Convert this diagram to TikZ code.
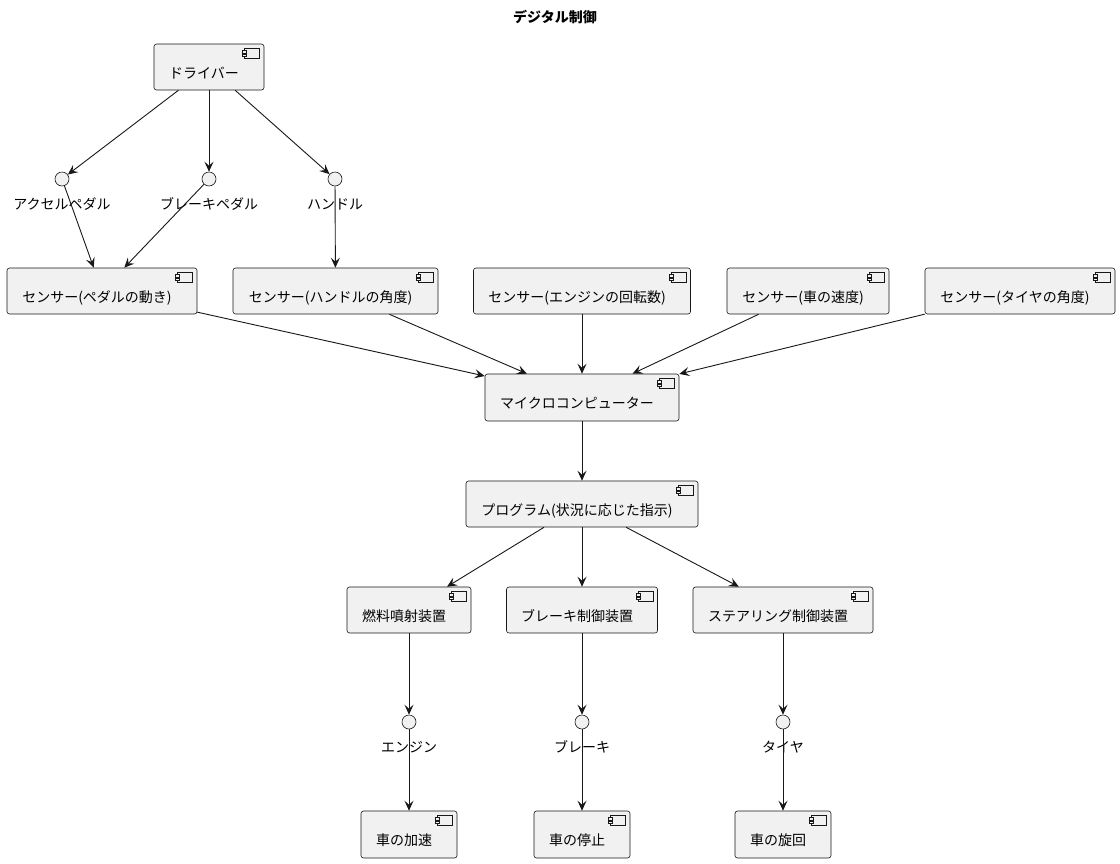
\documentclass[tikz,border=0pt]{standalone}
\usepackage{fontspec}
\setmainfont{Noto Sans CJK JP}
\usetikzlibrary{arrows.meta}
\definecolor{boxfill}{HTML}{F1F1F1}
\definecolor{ink}{HTML}{181818}
\tikzset{
  comp/.style={draw=ink, fill=boxfill, line width=0.6pt, rounded corners=2.5pt,
    minimum height=46pt, inner sep=0pt, text height=22pt, text depth=0pt,
    font=\fontsize{14pt}{16pt}\selectfont, execute at begin node={\hspace*{-10pt}}},
  iface/.style={circle, draw=ink, fill=boxfill, line width=0.6pt, minimum size=14pt, inner sep=0pt},
  ilabel/.style={font=\fontsize{14pt}{16pt}\selectfont, inner sep=0pt},
  conn/.style={draw=ink, line width=0.9pt, -{Stealth[length=10pt,width=9pt,inset=4pt]}},
}
\newcommand{\compicon}[1]{%
  \draw[ink, line width=0.6pt, fill=boxfill] ([xshift=-20pt,yshift=-5pt]#1.north east) rectangle ([xshift=-5pt,yshift=-15pt]#1.north east);
  \draw[ink, line width=0.6pt, fill=boxfill] ([xshift=-22pt,yshift=-7pt]#1.north east) rectangle ([xshift=-18pt,yshift=-9.5pt]#1.north east);
  \draw[ink, line width=0.6pt, fill=boxfill] ([xshift=-22pt,yshift=-10.5pt]#1.north east) rectangle ([xshift=-18pt,yshift=-13pt]#1.north east);
}
\begin{document}
\begin{tikzpicture}[x=1pt,y=-1pt]
\useasboundingbox[fill=white] (0,0) rectangle (1120,863);
\node[font=\fontsize{14pt}{16pt}\selectfont\bfseries] (title) at (555,17) {デジタル制御};

\node[comp, minimum width=110pt] (drv) at (209,67) {ドライバー};

\node[iface] (acc) at (62,179) {};
\node[iface] (brk) at (209,179) {};
\node[iface] (hdl) at (335,179) {};
\node[ilabel] (accl) at (62,204) {アクセルペダル};
\node[ilabel] (brkl) at (209,204) {ブレーキペダル};
\node[ilabel] (hdll) at (335,204) {ハンドル};

\node[comp, minimum width=190pt] (sp) at (102,291) {センサー(ペダルの動き)};
\node[comp, minimum width=205pt] (sh) at (335.5,291) {センサー(ハンドルの角度)};
\node[comp, minimum width=217pt] (se) at (582,291) {センサー(エンジンの回転数)};
\node[comp, minimum width=162pt] (ss) at (808,291) {センサー(車の速度)};
\node[comp, minimum width=190pt] (st) at (1020,291) {センサー(タイヤの角度)};

\node[comp, minimum width=194pt, minimum height=47pt] (mc) at (582,397.5) {マイクロコンピューター};
\node[comp, minimum width=232pt] (pg) at (582,504) {プログラム(状況に応じた指示)};

\node[comp, minimum width=124pt] (fi) at (409,610) {燃料噴射装置};
\node[comp, minimum width=151pt] (bc) at (582,610) {ブレーキ制御装置};
\node[comp, minimum width=180pt] (sc) at (783,610) {ステアリング制御装置};

\node[iface] (ie) at (409,722) {};
\node[iface] (ib) at (582,722) {};
\node[iface] (it) at (783,722) {};
\node[ilabel] (iel) at (409,747) {エンジン};
\node[ilabel] (ibl) at (582,747) {ブレーキ};
\node[ilabel] (itl) at (783,747) {タイヤ};

\node[comp, minimum width=96pt, minimum height=47pt] (oa) at (409,834.5) {車の加速};
\node[comp, minimum width=96pt, minimum height=47pt] (os) at (582,834.5) {車の停止};
\node[comp, minimum width=96pt, minimum height=47pt] (ot) at (783,834.5) {車の旋回};

\foreach \n in {drv,sp,sh,se,ss,st,mc,pg,fi,bc,sc,oa,os,ot}{\compicon{\n}}

\draw[conn] (drv) -- (acc);
\draw[conn] (drv) -- (brk);
\draw[conn] (drv) -- (hdl);
\draw[conn] (acc) -- (sp);
\draw[conn] (brk) -- (sp);
\draw[conn] (hdl) -- (sh);
\draw[conn] (sp) -- (mc);
\draw[conn] (sh) -- (mc);
\draw[conn] (se) -- (mc);
\draw[conn] (ss) -- (mc);
\draw[conn] (st) -- (mc);
\draw[conn] (mc) -- (pg);
\draw[conn] (pg) -- (fi);
\draw[conn] (pg) -- (bc);
\draw[conn] (pg) -- (sc);
\draw[conn] (fi) -- (ie);
\draw[conn] (bc) -- (ib);
\draw[conn] (sc) -- (it);
\draw[conn] (ie) -- (oa);
\draw[conn] (ib) -- (os);
\draw[conn] (it) -- (ot);
\end{tikzpicture}
\end{document}
